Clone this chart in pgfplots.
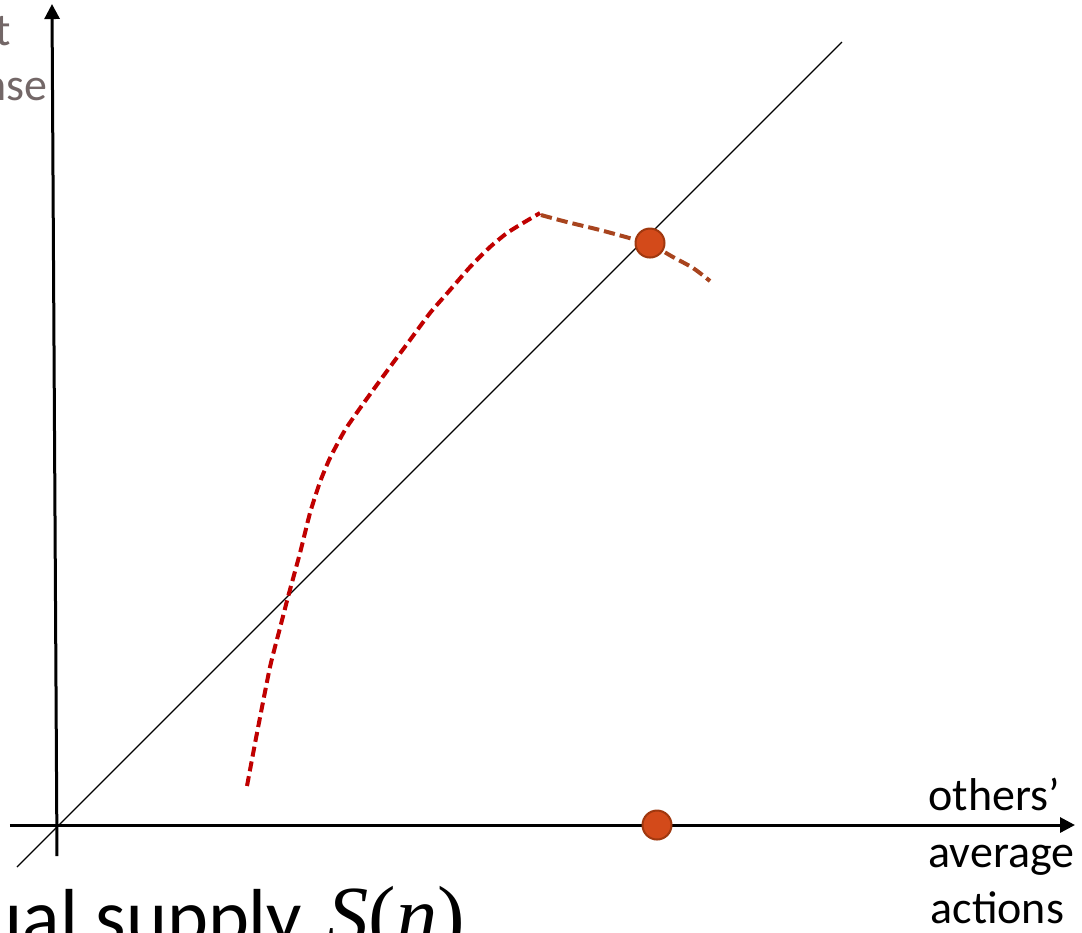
\documentclass[border=0pt]{standalone}
\usepackage{pgfplots}
\pgfplotsset{compat=1.18}
\usetikzlibrary{arrows.meta}
\usepackage{fontspec}
\setmainfont{Carlito}
\newfontfamily\mathserif{Liberation Serif}
\definecolor{curvered}{HTML}{C00000}
\definecolor{curvebrown}{HTML}{A8441E}
\definecolor{dotfill}{HTML}{D34A1A}
\definecolor{dotedge}{HTML}{A0380F}
\definecolor{labelgray}{HTML}{736767}
\begin{document}
\begin{tikzpicture}
\useasboundingbox (0,0) rectangle (432.8pt,372.8pt);
\clip (0,0) rectangle (432.8pt,372.8pt);
\begin{axis}[
  at={(0,0)}, anchor=south west,
  scale only axis, width=432.8pt, height=372.8pt,
  xmin=0, xmax=1082, ymin=0, ymax=932, y dir=reverse,
  axis lines=none, clip=false,
]
% coordinate axes
\addplot[black, line width=1.2pt, -{Triangle[length=6pt,width=6pt]}] coordinates {(57,856) (52,4)};
\addplot[black, line width=1.2pt, -{Triangle[length=6pt,width=6pt]}] coordinates {(10,825) (1075,825)};
% 45-degree line
\addplot[black, line width=0.52pt] coordinates {(17,867) (842,42)};
% supply curve, rising part
\addplot[curvered, line width=1.6pt, dash pattern=on 4pt off 2pt, smooth, tension=0.35] coordinates {
  (247,786) (257,733) (270,667) (280,628) (288,597) (300,553) (310,513)
  (320,482) (330,458) (345,430) (363,404) (387,371) (410,340)
  (430,313) (450,290) (470,267) (490,247) (507,233) (523,223) (540,213)};
% supply curve, falling part
\addplot[curvebrown, line width=1.6pt, dash pattern=on 4.5pt off 2pt, smooth, tension=0.5] coordinates {
  (541,215) (567,222) (600,230) (633,239) (650,244) (673,257) (693,268) (710,281)};
% equilibrium points
\addplot[only marks, mark=*, mark size=5.8pt, mark options={fill=dotfill, draw=dotedge, line width=0.8pt}] coordinates {(650,243) (657,825)};
% labels
\node[anchor=base west, font=\fontsize{18.4}{22}\selectfont, inner sep=0pt] at (axis cs:928,810) {others’};
\node[anchor=base west, font=\fontsize{18.4}{22}\selectfont, inner sep=0pt] at (axis cs:928,867) {average};
\node[anchor=base west, font=\fontsize{18.4}{22}\selectfont, inner sep=0pt] at (axis cs:930,923) {actions};
\node[anchor=base east, font=\fontsize{18.4}{22}\selectfont, inner sep=0pt, text=labelgray] at (axis cs:11,45) {best};
\node[anchor=base east, font=\fontsize{18.4}{22}\selectfont, inner sep=0pt, text=labelgray] at (axis cs:48,100) {response};
\node[anchor=base east, font=\fontsize{31.2}{36}\selectfont, inner sep=0pt] at (axis cs:303,943) {Individual supply};
\node[anchor=base west, font=\fontsize{33}{38}\mathserif\selectfont, inner sep=0pt] at (axis cs:327,943) {\textit{S}(\textit{n})};
\end{axis}
\end{tikzpicture}
\end{document}
